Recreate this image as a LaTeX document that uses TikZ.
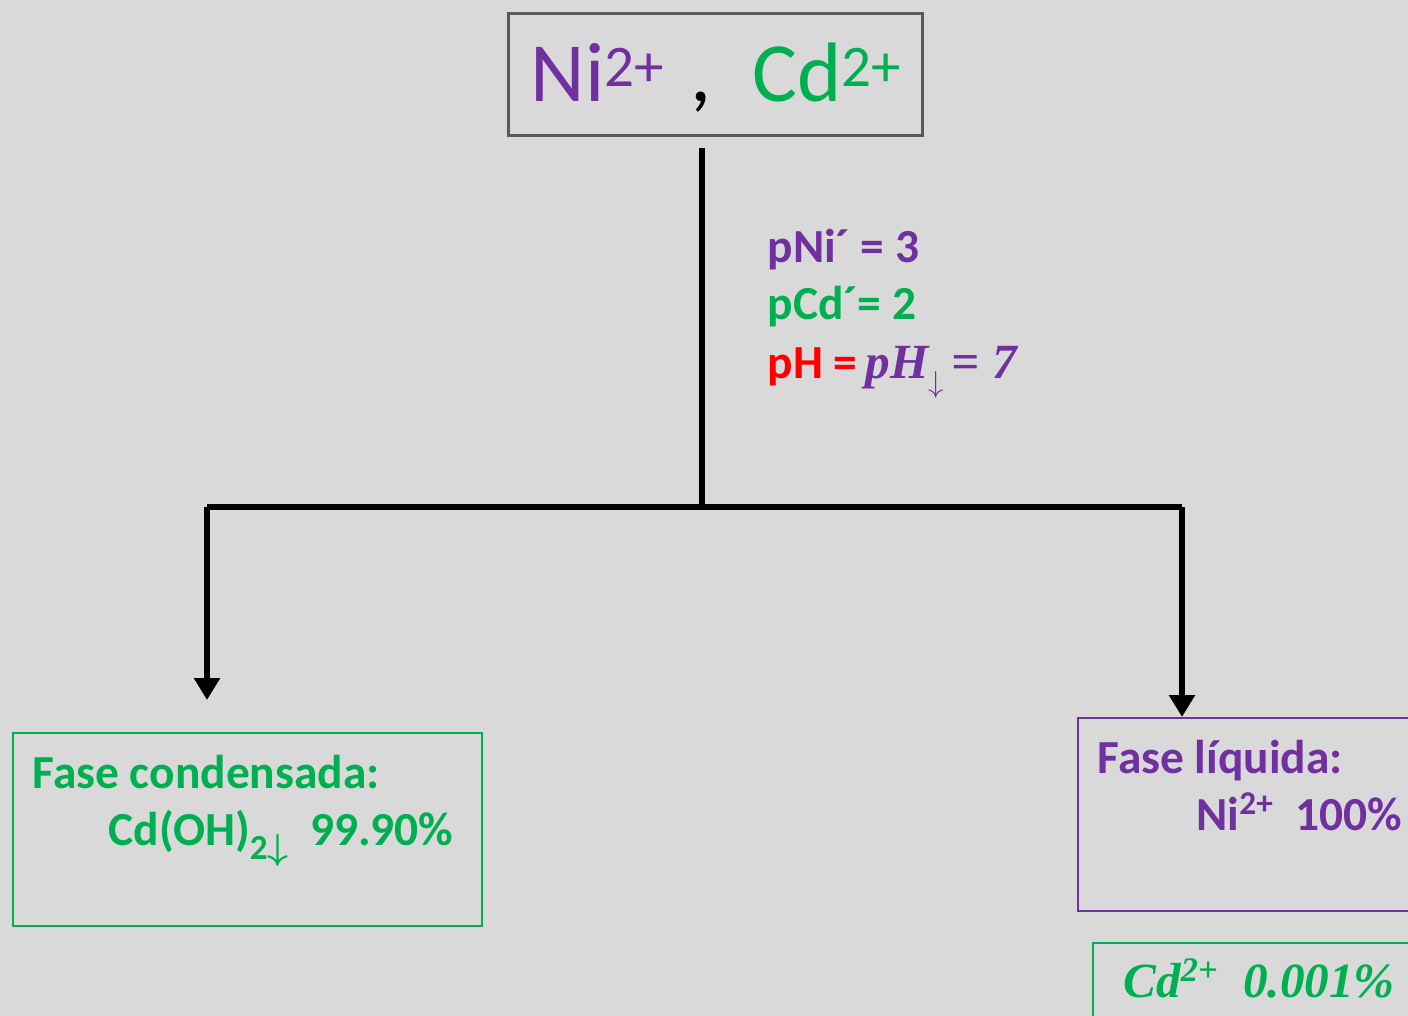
\documentclass[tikz,border=0pt]{standalone}
\usepackage{fontspec}
\setmainfont{Carlito}
\newfontfamily\tnr{Liberation Serif}
\usepackage{amsmath}
\usepackage{xcolor}
\usepackage{tikz}
\usetikzlibrary{arrows.meta}
\usetikzlibrary{calc}
\definecolor{violeta}{HTML}{7030A0}
\definecolor{verde}{HTML}{00B050}
\definecolor{rojo}{HTML}{FF0000}
\definecolor{fondo}{HTML}{D9D9D9}

\begin{document}
\begin{tikzpicture}[x=0.02cm,y=-0.02cm,semithick]
	\tikzstyle{caja}=[draw, rectangle, inner sep=0pt, anchor=north west, line width=1.1pt]
	\tikzstyle{rama}=[line width=0.12cm]
	\tikzstyle{flecha}=[rama, -{Triangle[length=0.44cm,width=0.5cm]}]
	\tikzstyle{txt}=[anchor=base west, inner sep=0pt, font=\bfseries\fontsize{27}{32}\selectfont]
	\tikzstyle{ion}=[anchor=base west, inner sep=0pt, font=\fontsize{48}{58}\selectfont]
	\tikzstyle{cursiva}=[anchor=base west, inner sep=0pt, font=\tnr\bfseries\itshape\fontsize{28}{32}\selectfont]
	\fill[fondo] (0,0) rectangle (1408,1016);
	\useasboundingbox (0,0) rectangle (1408,1016);
	\clip (0,0) rectangle (1408,1016);
	% cajas
	\node[caja, draw=black!65, line width=1.5pt, minimum width=8.28cm, minimum height=2.44cm] (ini) at (507,12) {};
	\node[caja, draw=verde, minimum width=9.38cm, minimum height=3.86cm] (cond) at (12,732) {};
	\node[caja, draw=violeta, minimum width=7.2cm, minimum height=3.86cm] (liq) at (1077,717) {};
	\node[caja, draw=verde, minimum width=7cm, minimum height=3cm] (resto) at (1092,942) {};
	% textos
	\node[ion, violeta] (ni) at (530,102) {Ni\textsuperscript{2+}};
	\node[ion] (coma) at (690,102) {,};
	\node[ion, verde] (cd) at (752,102) {Cd\textsuperscript{2+}};
	\node[txt, violeta] (pni) at (767,263) {pNi´ = 3};
	\node[txt, verde] (pcd) at (767,320) {pCd´= 2};
	\node[txt, rojo] (ph) at (767,378) {pH =};
	\node[cursiva, violeta] (php) at (865,378) {pH\raisebox{-0.3em}{\fontsize{18}{20}\selectfont$\downarrow$}\,= 7};
	\node[txt, verde] (fc) at (32,788) {Fase condensada:};
	\node[txt, verde] (pp) at (108,845) {Cd(OH)\raisebox{-0.3em}{\fontsize{20}{22}\selectfont 2$\boldsymbol{\downarrow}$}\hspace{0.45em}99.90\%};
	\node[txt, violeta] (fl) at (1097,773) {Fase líquida:};
	\node[txt, violeta] (nil) at (1196,830) {Ni\textsuperscript{2+}\ \ 100\%};
	\node[cursiva, verde] (cdl) at (1123,997) {Cd\textsuperscript{2+}\hspace{0.5em}0.001\%};
	% ramas
	\coordinate (arriba) at (702,148);
	\coordinate (nudo) at (702,507);
	\coordinate (izq) at (207,507);
	\coordinate (der) at (1182,507);
	\coordinate (pizq) at (207,700);
	\draw[rama] (arriba) -- (nudo);
	\draw[rama] (izq) -- (der);
	\draw[flecha] (izq) -- (pizq);
	\draw[flecha] (der) -- (der |- liq.north);
\end{tikzpicture}
\end{document}
